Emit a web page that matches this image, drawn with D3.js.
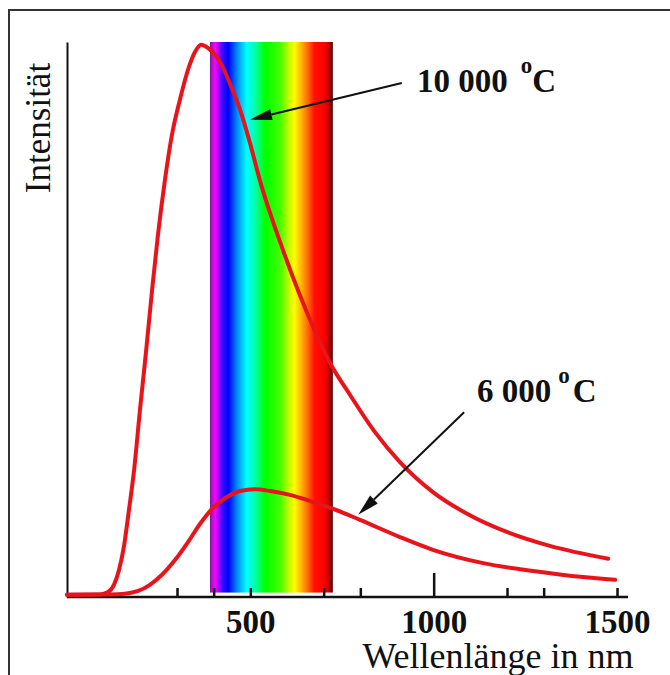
<!DOCTYPE html>
<html lang="de">
<head>
<meta charset="utf-8">
<title>Intensität / Wellenlänge</title>
<script src="https://d3js.org/d3.v7.min.js"></script>
<style>
  body { margin: 0; background: #fff; }
  svg text { font-family: "Liberation Serif", "Times New Roman", serif; fill: #111; }
</style>
</head>
<body>
<svg id="chart" width="670" height="675"></svg>
<script>
// wavelength (nm) and relative intensity
const wl10000 = [0, 90, 112, 128, 142, 156, 169, 183, 199, 216, 232, 248, 267, 286, 308, 330, 349, 366,
                 385, 404, 423, 445, 472, 499, 526, 589, 671, 717, 772, 840, 908, 998, 1091, 1208, 1317, 1476];
const int10000 = [0.4, 0.45, 0.9, 2.2, 4.9, 9.4, 15.7, 22.9, 33.7, 44.5, 55.3, 65.2, 75.1, 83.2, 89.6, 95.0, 98.2, 99.5,
                  98.9, 97.7, 95.7, 92.4, 87.8, 81.8, 75.1, 62.5, 48.7, 42.2, 36.4, 29.7, 24.3, 18.9, 15.0, 11.5, 9.2, 6.9];
const wl6000 = [0, 117, 158, 194, 226, 259, 295, 330, 363, 396, 431, 472, 513, 554, 608, 663, 726, 799, 908, 998, 1135, 1271, 1407, 1495];
const int6000 = [0.4, 0.45, 0.6, 1.1, 2.2, 4.0, 6.7, 9.9, 13.2, 15.9, 17.8, 19.1, 19.4, 19.1, 18.4, 17.3, 15.9, 13.9, 10.8, 8.5, 6.1, 4.7, 3.6, 3.1];

// visible band
const specWl = [390, 395, 405, 415, 425, 440, 465, 490, 515, 540, 580, 605, 620, 640, 655, 675, 700, 712, 720, 725];
const specColor = ['#6b2080', '#b010d0', '#ff00ff', '#9000ff', '#3010ff', '#0000ff', '#0090ff', '#00ffff', '#00ffa0', '#00ff00',
                   '#40ff00', '#c0ff00', '#ffff00', '#ffb000', '#ff7000', '#ff1000', '#ff0000', '#d00000', '#800000', '#500000'];

const tickNm = [300, 400, 500, 700, 800, 1000, 1200, 1300, 1500];
const labelNm = [500, 1000, 1500];

// arrows: [tailNm, tailInt, tipNm, tipInt]
const arrow10000 = [913, 92.6, 499, 86.0];
const arrow6000 = [1083, 33.3, 794, 14.8];

const svg = d3.select('#chart');
const x = d3.scaleLinear().domain([0, 1500]).range([67, 617]);
const y = d3.scaleLinear().domain([0, 100]).range([597, 42]);

// frame
svg.append('rect')
    .attr('x', 9).attr('y', 10)
    .attr('width', 720).attr('height', 720)
    .attr('fill', 'none').attr('stroke', '#333').attr('stroke-width', 2);

// spectrum band
const grad = svg.append('defs').append('linearGradient')
    .attr('id', 'spec').attr('x1', '0%').attr('x2', '100%');
const wlMin = specWl[0], wlMax = specWl[specWl.length - 1];
grad.selectAll('stop')
    .data(specWl)
    .enter()
    .append('stop')
    .attr('offset', d => ((d - wlMin) / (wlMax - wlMin) * 100) + '%')
    .attr('stop-color', (d, i) => specColor[i]);

svg.append('rect')
    .attr('x', x(wlMin)).attr('y', y(100))
    .attr('width', x(wlMax) - x(wlMin))
    .attr('height', y(0.8) - y(100))
    .attr('fill', 'url(#spec)');

// axes
svg.append('g')
    .attr('transform', 'translate(' + x(0) + ',0)')
    .call(d3.axisLeft(y).tickValues([]).tickSizeOuter(0))
    .select('.domain').attr('stroke', '#111').attr('stroke-width', 2);

const gx = svg.append('g')
    .attr('transform', 'translate(0,' + y(0) + ')')
    .call(d3.axisBottom(x)
        .tickValues(tickNm)
        .tickSizeInner(-9)
        .tickSizeOuter(0)
        .tickFormat(d => labelNm.includes(d) ? d : ''));
gx.select('.domain').remove();
gx.append('line')
    .attr('x1', x(0)).attr('x2', x(1530))
    .attr('stroke', '#111').attr('stroke-width', 2.5);
gx.selectAll('.tick line')
    .attr('stroke', '#111').attr('stroke-width', 2.5)
    .attr('y2', d => d === 1000 ? -24 : -9);
gx.selectAll('.tick text')
    .attr('y', 36).attr('dy', 0)
    .style('font-family', '"Liberation Serif", "Times New Roman", serif')
    .style('font-size', '33px').style('font-weight', 'bold').attr('fill', '#111');

// curves
const line = d3.line()
    .x(d => x(d[0]))
    .y(d => y(d[1]))
    .curve(d3.curveMonotoneX);

[[wl10000, int10000], [wl6000, int6000]].forEach(s => {
    svg.append('path')
        .datum(s[0].map((w, i) => [w, s[1][i]]))
        .attr('fill', 'none')
        .attr('stroke', '#e8141c')
        .attr('stroke-width', 4)
        .attr('stroke-linecap', 'round')
        .attr('d', line);
});

// arrows
function drawArrow(a) {
    const x1 = x(a[0]), y1 = y(a[1]), x2 = x(a[2]), y2 = y(a[3]);
    const ang = Math.atan2(y2 - y1, x2 - x1);
    const len = 22, half = 5.5;
    const bx = x2 - len * Math.cos(ang), by = y2 - len * Math.sin(ang);
    svg.append('line')
        .attr('x1', x1).attr('y1', y1).attr('x2', bx).attr('y2', by)
        .attr('stroke', '#111').attr('stroke-width', 2);
    const pts = [
        [x2, y2],
        [bx + half * Math.sin(ang), by - half * Math.cos(ang)],
        [bx - half * Math.sin(ang), by + half * Math.cos(ang)]
    ];
    svg.append('path')
        .attr('d', 'M' + pts.map(p => p.join(',')).join('L') + 'Z')
        .attr('fill', '#111');
}
drawArrow(arrow10000);
drawArrow(arrow6000);

// labels
function tempLabel(xp, yp, num, gapO, gapC) {
    const t = svg.append('text')
        .attr('x', xp).attr('y', yp)
        .style('font-size', '33px').style('font-weight', 'bold');
    t.append('tspan').text(num);
    t.append('tspan').attr('dx', gapO).attr('dy', -19).style('font-size', '23px').text('o');
    t.append('tspan').attr('dx', gapC).attr('dy', 19).text('C');
}
tempLabel(417, 92, '10 000', 13, 0);
tempLabel(477, 402, '6 000', 7, 3);

svg.append('text')
    .attr('transform', 'translate(50,128) rotate(-90)')
    .attr('text-anchor', 'middle')
    .style('font-size', '35px')
    .text('Intensität');

svg.append('text')
    .attr('x', 498).attr('y', 668)
    .attr('text-anchor', 'middle')
    .style('font-size', '36px')
    .text('Wellenlänge in nm');
</script>
</body>
</html>
